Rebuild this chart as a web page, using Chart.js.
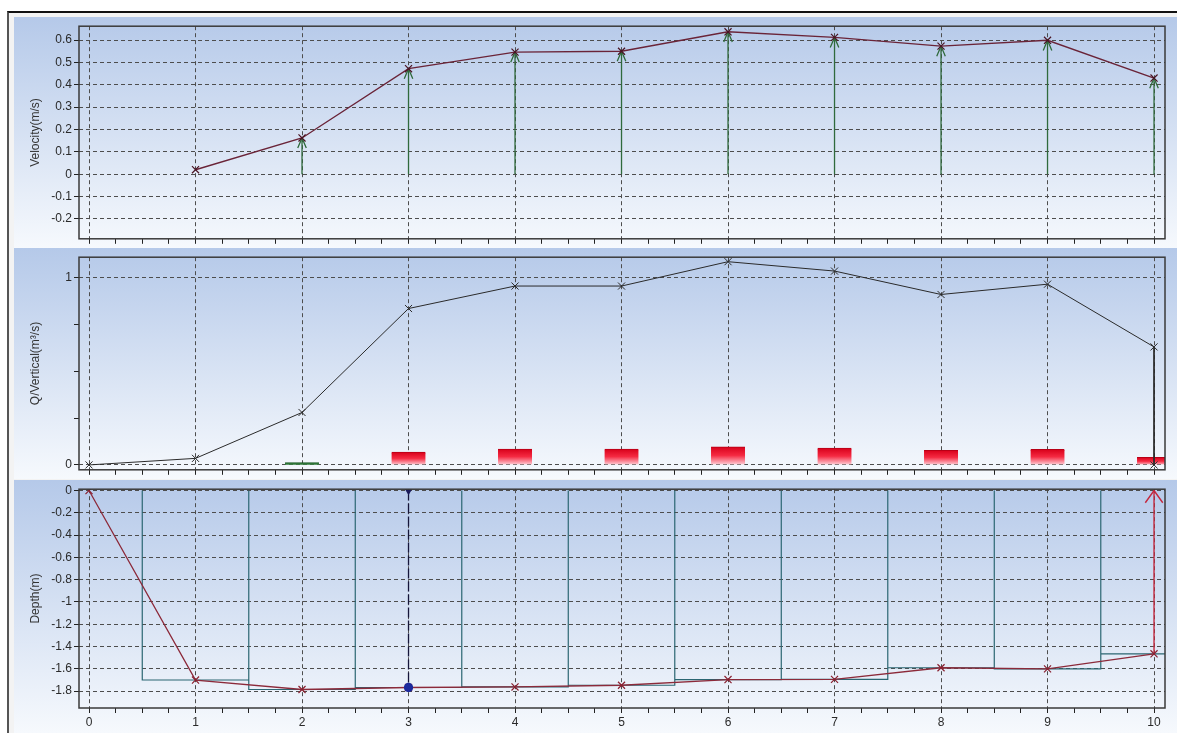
<!DOCTYPE html>
<html>
<head>
<meta charset="utf-8">
<script src="https://cdn.jsdelivr.net/npm/chart.js@4.4.1/dist/chart.umd.min.js"></script>
<style>
  body { margin: 0; background: #fff; width: 1177px; height: 733px; overflow: hidden; position: relative; }
  #frame { position: absolute; left: 7px; top: 11px; width: 1180px; height: 730px;
           border-left: 2px solid #555; border-top: 2px solid #111; background: #f3f3f3; }
  .panel { position: absolute; left: 14px; width: 1163px;
           background: linear-gradient(#b5c9e9, #f6f9fd); }
  .panel canvas { position: absolute; left: 0; top: 0; }
</style>
</head>
<body>
<div id="frame"></div>
<div class="panel" style="top:17px;height:231px"><canvas id="velChart" width="1163" height="231"></canvas></div>
<div class="panel" style="top:248px;height:231px"><canvas id="qChart" width="1163" height="231"></canvas></div>
<div class="panel" style="top:480px;height:253px"><canvas id="depthChart" width="1163" height="253"></canvas></div>
<script>
// stations across the section
const stations = [0, 1, 2, 3, 4, 5, 6, 7, 8, 9, 10];
const xLabels = [0, 1, 2, 3, 4, 5, 6, 7, 8, 9, 10];
const xMinorStep = 0.25;

// panel 1: mean velocity per vertical
const velStations = [1, 2, 3, 4, 5, 6, 7, 8, 9, 10];
const velocity = [0.02, 0.162, 0.472, 0.546, 0.55, 0.637, 0.612, 0.573, 0.599, 0.43];
const velArrowStations = [2, 3, 4, 5, 6, 7, 8, 9, 10];
const velTicks = [-0.2, -0.1, 0, 0.1, 0.2, 0.3, 0.4, 0.5, 0.6];

// panel 2: discharge per vertical
const qStations = [0, 1, 2, 3, 4, 5, 6, 7, 8, 9, 10, 10];
const qVertical = [0, 0.035, 0.28, 0.835, 0.955, 0.955, 1.085, 1.035, 0.91, 0.965, 0.63, 0];
const barStations = [2, 3, 4, 5, 6, 7, 8, 9, 10];
const barValues = [0.012, 0.068, 0.085, 0.085, 0.097, 0.09, 0.078, 0.083, 0.04];
const qTicks = [0, 0.25, 0.5, 0.75, 1];
const qLabelTicks = [0, 1];

// panel 3: bed depth
const depth = [0, -1.70, -1.785, -1.767, -1.762, -1.747, -1.696, -1.694, -1.59, -1.60, -1.465];
const depthTicks = [-1.8, -1.6, -1.4, -1.2, -1, -0.8, -0.6, -0.4, -0.2, 0];
const selectedStation = 3;
const edgeStation = 10;

const X_MIN = -0.094, X_MAX = 10.103;
const FONT = { family: '"Liberation Sans", Arial, sans-serif', size: 12 };
const TEXT = '#2a2a2a';
const GRID = '#4d4d4d';

const xMinorTicks = [];
for (let i = 0; i <= (xLabels[xLabels.length - 1] - xLabels[0]) / xMinorStep; i++) {
    xMinorTicks.push(xLabels[0] + i * xMinorStep);
}

const plotFrame = {
    id: 'plotFrame',
    afterDraw(chart) {
        const {left, top, right, bottom} = chart.chartArea;
        const ctx = chart.ctx;
        ctx.save();
        ctx.strokeStyle = '#3a3a3a';
        ctx.lineWidth = 1.5;
        ctx.strokeRect(left, top, right - left, bottom - top);
        ctx.restore();
    }
};

const arrowHeads = {
    id: 'arrowHeads',
    afterDatasetDraw(chart, args) {
        const ds = chart.data.datasets[args.index];
        if (!ds.arrowHead) return;
        const pts = args.meta.data;
        const tip = pts[pts.length - 1], prev = pts[pts.length - 2];
        const ang = Math.atan2(tip.y - prev.y, tip.x - prev.x);
        const len = ds.arrowHead.len, spread = ds.arrowHead.spread;
        const a = chart.chartArea;
        const ctx = chart.ctx;
        ctx.save();
        ctx.beginPath();
        ctx.rect(a.left, a.top, a.right - a.left, a.bottom - a.top);
        ctx.clip();
        ctx.strokeStyle = ds.borderColor;
        ctx.lineWidth = ds.borderWidth;
        ctx.beginPath();
        ctx.moveTo(tip.x - len * Math.cos(ang - spread), tip.y - len * Math.sin(ang - spread));
        ctx.lineTo(tip.x, tip.y);
        ctx.lineTo(tip.x - len * Math.cos(ang + spread), tip.y - len * Math.sin(ang + spread));
        ctx.stroke();
        ctx.restore();
    }
};

function xScale(showLabels, height) {
    return {
        type: 'linear',
        min: X_MIN,
        max: X_MAX,
        offset: false,
        afterBuildTicks: s => { s.ticks = xMinorTicks.map(v => ({value: v})); },
        afterFit: s => { s.height = height; },
        ticks: {
            display: showLabels,
            autoSkip: false,
            maxRotation: 0,
            padding: 2,
            font: FONT,
            color: TEXT,
            callback: v => xLabels.includes(v) ? String(v) : ''
        },
        grid: {
            offset: false,
            color: c => (c.tick && xLabels.includes(c.tick.value)) ? GRID : 'rgba(0,0,0,0)',
            tickColor: '#222',
            tickLength: 5,
            lineWidth: 1
        },
        border: { display: false, dash: [4, 3] }
    };
}

function yScale(min, max, ticks, labelTicks, gridTicks, title) {
    return {
        type: 'linear',
        min: min,
        max: max,
        afterBuildTicks: s => { s.ticks = ticks.map(v => ({value: v})); },
        afterFit: s => { s.width = 65; },
        ticks: {
            autoSkip: false,
            padding: 2,
            font: FONT,
            color: TEXT,
            callback: v => labelTicks.includes(v) ? String(v) : ''
        },
        grid: {
            color: c => (c.tick && gridTicks.includes(c.tick.value)) ? GRID : 'rgba(0,0,0,0)',
            tickColor: '#222',
            tickLength: 5,
            lineWidth: 1
        },
        border: { display: false, dash: [4, 3] },
        title: { display: true, text: title, font: FONT, color: '#333', padding: { top: 14, bottom: 0 } }
    };
}

function baseOptions(scales, padding) {
    return {
        responsive: false,
        animation: false,
        layout: { padding: padding },
        plugins: { legend: { display: false }, tooltip: { enabled: false } },
        scales: scales
    };
}

// ---- panel 1: velocity ----
const velDatasets = [{
    data: velStations.map((s, i) => ({x: s, y: velocity[i]})),
    borderColor: '#6a2438',
    borderWidth: 1.4,
    pointStyle: 'crossRot',
    pointRadius: 5,
    pointBorderColor: '#4a1424',
    pointBorderWidth: 1.2
}];
velArrowStations.forEach(s => {
    velDatasets.push({
        data: [{x: s, y: 0}, {x: s, y: velocity[velStations.indexOf(s)]}],
        borderColor: '#2f6a3c',
        borderWidth: 1.3,
        pointRadius: 0,
        arrowHead: { len: 11, spread: 0.4 }
    });
});

new Chart(document.getElementById('velChart'), {
    type: 'line',
    data: { datasets: velDatasets },
    options: baseOptions({
        x: xScale(false, 6),
        y: yScale(-0.289, 0.662, velTicks, velTicks, velTicks, 'Velocity(m/s)')
    }, { top: 8, right: 12, bottom: 1.5, left: 0 }),
    plugins: [plotFrame, arrowHeads]
});

// ---- panel 2: Q / vertical ----
function barFill(c) {
    const chart = c.chart;
    const green = c.dataIndex === 0;
    if (!chart.chartArea || !c.parsed) return green ? '#2e7a3a' : '#e8102a';
    const ys = chart.scales.y;
    const top = ys.getPixelForValue(c.parsed.y), base = ys.getPixelForValue(0);
    const g = chart.ctx.createLinearGradient(0, top, 0, base + 1);
    if (green) {
        g.addColorStop(0, '#1f6a2a');
        g.addColorStop(1, '#6fb87a');
    } else {
        g.addColorStop(0, '#d8001a');
        g.addColorStop(0.45, '#f52a42');
        g.addColorStop(1, '#ffe6ec');
    }
    return g;
}

new Chart(document.getElementById('qChart'), {
    type: 'line',
    data: {
        datasets: [{
            data: qStations.map((s, i) => ({x: s, y: qVertical[i]})),
            borderColor: '#2a2a2a',
            borderWidth: 1,
            pointStyle: 'crossRot',
            pointRadius: 5,
            pointBorderColor: '#2a2a2a',
            pointBorderWidth: 1
        }, {
            type: 'bar',
            data: barStations.map((s, i) => ({x: s, y: barValues[i]})),
            backgroundColor: barFill,
            borderColor: c => c.dataIndex === 0 ? '#16561f' : '#b80016',
            borderWidth: { top: 1, left: 0, right: 0, bottom: 0 },
            borderSkipped: 'bottom',
            barThickness: 34,
            grouped: false
        }]
    },
    options: baseOptions({
        x: xScale(false, 6),
        y: yScale(-0.026, 1.109, qTicks, qLabelTicks, qLabelTicks, 'Q/Vertical(m\u00b3/s)')
    }, { top: 8, right: 12, bottom: 2, left: 0 }),
    plugins: [plotFrame, arrowHeads]
});

// ---- panel 3: depth ----
const stepPoints = [];
stations.slice(1).forEach(s => {
    const d = depth[stations.indexOf(s)];
    stepPoints.push({x: s - 0.5, y: 0}, {x: s - 0.5, y: d}, {x: s + 0.5, y: d}, {x: s + 0.5, y: 0});
});
const selDepth = depth[stations.indexOf(selectedStation)];
const edgeDepth = depth[stations.indexOf(edgeStation)];

new Chart(document.getElementById('depthChart'), {
    type: 'line',
    data: {
        datasets: [{
            data: [{x: selectedStation, y: 0}, {x: selectedStation, y: selDepth}],
            borderColor: '#15153a',
            borderWidth: 1.3,
            borderDash: [10, 3],
            pointStyle: ['triangle', 'circle'],
            pointRotation: [180, 0],
            pointRadius: [3.5, 4],
            pointBackgroundColor: ['#1a1a5a', '#1c2a9c'],
            pointBorderColor: ['#1a1a5a', '#1c2a9c']
        }, {
            data: stations.map((s, i) => ({x: s, y: depth[i]})),
            borderColor: '#8c2a3a',
            borderWidth: 1.3,
            pointStyle: 'crossRot',
            pointRadius: 5,
            pointBorderColor: '#8a2030',
            pointBorderWidth: 1.2
        }, {
            data: [{x: edgeStation, y: edgeDepth}, {x: edgeStation, y: 0}],
            borderColor: '#c4283e',
            borderWidth: 1.4,
            pointRadius: 0,
            arrowHead: { len: 15, spread: 0.62 }
        }, {
            data: stepPoints,
            borderColor: '#2b6672',
            borderWidth: 1.2,
            pointRadius: 0
        }]
    },
    options: baseOptions({
        x: xScale(true, 20),
        y: yScale(-1.951, 0.012, depthTicks, depthTicks, depthTicks, 'Depth(m)')
    }, { top: 7, right: 12, bottom: 5, left: 0 }),
    plugins: [plotFrame, arrowHeads]
});
</script>
</body>
</html>
